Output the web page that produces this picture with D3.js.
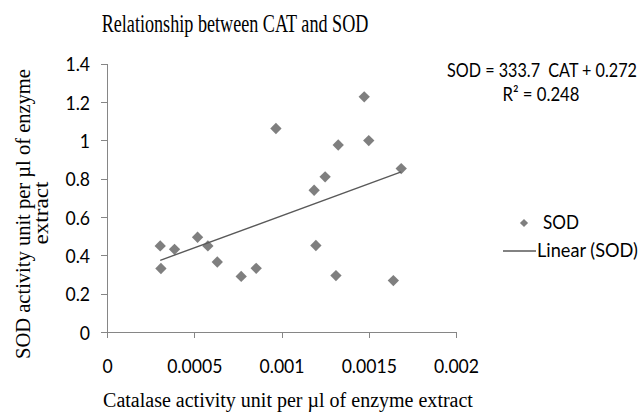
<!DOCTYPE html>
<html>
<head>
<meta charset="utf-8">
<script src="https://cdn.jsdelivr.net/npm/d3@7"></script>
<style>
  html, body { margin: 0; padding: 0; background: #fff; }
  svg { display: block; }
</style>
</head>
<body>
<svg id="chart" width="643" height="412"></svg>
<script>
// ---- data ----
const catValues = [0.000305, 0.000309, 0.000387, 0.000519, 0.000578, 0.000632, 0.000769, 0.000855, 0.000968,
                   0.001187, 0.001197, 0.00125, 0.001312, 0.001325, 0.001474, 0.0015, 0.001641, 0.001686];
const sodValues = [0.449, 0.331, 0.431, 0.494, 0.449, 0.365, 0.290, 0.332, 1.061,
                   0.739, 0.451, 0.809, 0.294, 0.975, 1.226, 0.998, 0.268, 0.852];
const xTicks = [0, 0.0005, 0.001, 0.0015, 0.002];
const xTickLabels = ["0", "0.0005", "0.001", "0.0015", "0.002"];
const yTicks = [0, 0.2, 0.4, 0.6, 0.8, 1, 1.2, 1.4];
const yTickLabels = ["0", "0.2", "0.4", "0.6", "0.8", "1", "1.2", "1.4"];
const trendCoef = [333.7, 0.272]; // slope, intercept
const titleText = "Relationship between CAT and SOD";
const xAxisTitle = "Catalase activity unit per \u00b5l of enzyme extract";
const yAxisTitle = ["SOD activity unit per \u00b5l of enzyme", "extract"];
const equationLines = ["SOD = 333.7\u00a0\u00a0CAT + 0.272", "R\u00b2 = 0.248"];
const legendLabels = ["SOD", "Linear (SOD)"];

// ---- drawing ----
const svg = d3.select("#chart");
const serif = "'Liberation Serif', 'Times New Roman', serif";
const sans = "Lato, 'Open Sans', sans-serif";
const axisColor = "#868686";
const markColor = "#7f7f7f";
const lineColor = "#595959";

const x = d3.scaleLinear().domain([0, 0.002]).range([107, 456]);
const y = d3.scaleLinear().domain([0, 1.4]).range([332, 63.5]);

// text squeezed horizontally (along its baseline) to a target width via a scale transform
function squeezedText(parent, str, tx, ty, anchor, family, size, width, rotate) {
  const g = parent.append("g");
  const t = g.append("text").attr("text-anchor", anchor)
    .attr("font-family", family).attr("font-size", size).attr("fill", "#000").text(str);
  const s = width / t.node().getComputedTextLength();
  g.attr("transform", `translate(${tx},${ty})` + (rotate ? ` rotate(${rotate})` : "") + ` scale(${s},1)`);
  return t;
}

// axes
const xAxis = d3.axisBottom(x).tickValues(xTicks).tickSize(6).tickSizeOuter(0)
  .tickFormat((d, i) => xTickLabels[i]).tickPadding(22);
const gx = svg.append("g").attr("transform", `translate(0,${y(0)})`).call(xAxis);
gx.select(".domain").attr("stroke", axisColor);
gx.selectAll(".tick line").attr("stroke", axisColor);
gx.selectAll(".tick text").attr("font-family", sans).attr("font-size", 20).attr("fill", "#000")
  .attr("dy", 0).attr("y", 41);

const yAxis = d3.axisLeft(y).tickValues(yTicks).tickSize(6).tickSizeOuter(0)
  .tickFormat((d, i) => yTickLabels[i]).tickPadding(11);
const gy = svg.append("g").attr("transform", `translate(${x(0)},0)`).call(yAxis);
gy.select(".domain").attr("stroke", axisColor);
gy.selectAll(".tick line").attr("stroke", axisColor);
gy.selectAll(".tick text").attr("font-family", sans).attr("font-size", 20).attr("fill", "#000")
  .attr("dy", "0.36em");
// narrow the tick labels slightly (Calibri-like proportions)
svg.selectAll(".tick text").each(function () {
  const l = this.getComputedTextLength();
  d3.select(this).attr("textLength", l * 0.88).attr("lengthAdjust", "spacingAndGlyphs");
});
svg.selectAll(".domain, .tick line").attr("shape-rendering", "crispEdges");

// points
const pts = catValues.map((c, i) => ({ c, s: sodValues[i] }));
const diamond = d3.symbol().type(d3.symbolSquare).size(64);
svg.append("g").selectAll("path").data(pts).join("path")
  .attr("d", diamond)
  .attr("transform", d => `translate(${x(d.c)},${y(d.s)}) rotate(45)`)
  .attr("fill", markColor);

// trend line
const cx = d3.extent(catValues);
const trend = cx.map(c => ({ c, s: trendCoef[0] * c + trendCoef[1] }));
svg.append("path").datum(trend)
  .attr("d", d3.line().x(d => x(d.c)).y(d => y(d.s)))
  .attr("stroke", lineColor).attr("stroke-width", 1.4).attr("fill", "none");

// titles
squeezedText(svg, titleText, 235, 32, "middle", serif, 25, 267);
squeezedText(svg, xAxisTitle, 288, 407, "middle", serif, 20, 370);
squeezedText(svg, yAxisTitle[0], 30, 214, "middle", serif, 22, 290, -90);
squeezedText(svg, yAxisTitle[1], 48, 213, "middle", serif, 22, 63, -90);

// regression equation
squeezedText(svg, equationLines[0], 542, 77, "middle", sans, 19, 190);
squeezedText(svg, equationLines[1], 541, 101, "middle", sans, 19, 77);

// legend
svg.append("path").attr("d", d3.symbol().type(d3.symbolSquare).size(34)())
  .attr("transform", "translate(524,223) rotate(45)").attr("fill", markColor);
squeezedText(svg, legendLabels[0], 543, 229, "start", sans, 19, 36);
svg.append("line").attr("x1", 503).attr("x2", 536).attr("y1", 251).attr("y2", 251)
  .attr("stroke", lineColor).attr("stroke-width", 1.4);
squeezedText(svg, legendLabels[1], 537, 257, "start", sans, 19, 101);
</script>
</body>
</html>
